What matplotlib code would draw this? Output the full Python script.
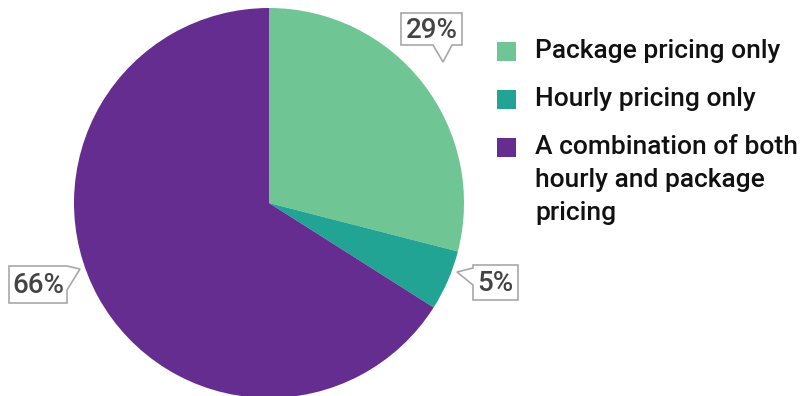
import matplotlib.pyplot as plt
from matplotlib.patches import Polygon, Rectangle

plt.rcParams['font.family'] = ['Roboto', 'DejaVu Sans']

labels = ['Package pricing only', 'Hourly pricing only',
          'A combination of both\nhourly and package\npricing']
shares = [29, 5, 66]
colors = ['#6fc593', '#22a495', '#662d91']

W, H = 801, 396
fig = plt.figure(figsize=(W / 100, H / 100), dpi=100)
ax = fig.add_axes([0, 0, 1, 1])

ax.pie(shares, colors=colors, startangle=90, counterclock=False,
       center=(269, 193), radius=195, frame=True,
       wedgeprops=dict(linewidth=0))
ax.set_xlim(0, W)
ax.set_ylim(0, H)
ax.set_aspect('equal')
ax.axis('off')


def callout(text, box, notch):
    # box: (x0, y0, x1, y1) in pixels (y up); notch: outline points of the pointer
    x0, y0, x1, y1 = box
    pts = notch(x0, y0, x1, y1)
    ax.add_patch(Polygon(pts, closed=True, facecolor='white',
                         edgecolor='#a8a8a8', linewidth=1.2, zorder=5))
    ax.text((x0 + x1) / 2, (y0 + y1) / 2 - 1, text, ha='center', va='center',
            fontsize=20, color='#444444', fontweight='medium', zorder=6)


# 29% - pointer on bottom edge
callout(f'{shares[0]}%', (401, 351, 462, 383),
        lambda x0, y0, x1, y1: [(x0, y1), (x1, y1), (x1, y0), (452, y0),
                                (443, 334), (433, y0), (x0, y0)])
# 5% - pointer on left edge
callout(f'{shares[1]}%', (473, 96, 518, 131),
        lambda x0, y0, x1, y1: [(x0, y1), (x1, y1), (x1, y0), (x0, y0),
                                (x0, 111), (457, 124), (x0, 128)])
# 66% - pointer on right edge
callout(f'{shares[2]}%', (9, 93, 67, 130),
        lambda x0, y0, x1, y1: [(x0, y1), (x1, y1), (80, 127), (x1, 106),
                                (x1, y0), (x0, y0)])

# legend
rows = [345, 297, 249]
for lab, col, yc in zip(labels, colors, rows):
    ax.add_patch(Rectangle((497, yc - 9.5), 19, 19, facecolor=col,
                           edgecolor='none'))
    ax.text(535, yc + 12, lab, ha='left', va='top', fontsize=19,
            fontweight='medium', color='#111111', linespacing=1.48)

fig.savefig('out.png', dpi=100)
